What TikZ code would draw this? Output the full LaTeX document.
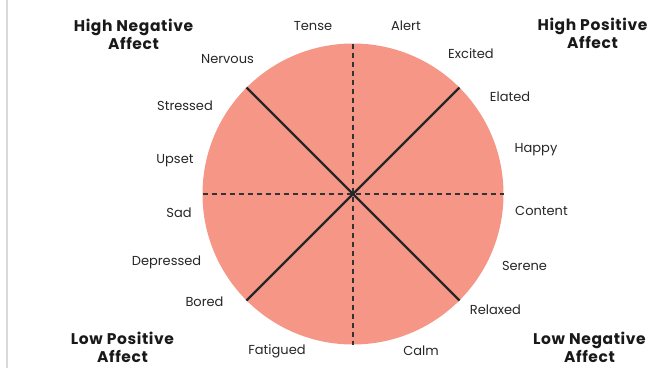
\documentclass[tikz,border=0pt]{standalone}
\usepackage{fontspec}
\setmainfont{Poppins}
\usetikzlibrary{positioning}

\definecolor{wheelfill}{RGB}{245,150,135}

\begin{document}
\begin{tikzpicture}[
                x=1pt, y=-1pt,
                mood/.style={font=\fontsize{13}{14}\selectfont, text=black!85, inner sep=0pt},
                corner/.style={font=\fontsize{15.5}{18}\selectfont\bfseries\addfontfeature{LetterSpace=4},
                               align=center, text=black!90, inner sep=0pt},
                axis/.style={dashed, dash pattern=on 5.5pt off 3.5pt, line width=1.2pt, black!80},
                split/.style={line width=2.4pt, black!85}
            ]
                \useasboundingbox (0,0) rectangle (648,368);
                \draw[gray!30, line width=1.5pt] (7,0) -- (7,368);

                \coordinate (c) at (353,194);
                \fill[wheelfill] (c) circle (150.5);
                \draw[axis] (c) ++(0,-150.5) -- ++(0,301);
                \draw[axis] (c) ++(-150.5,0) -- ++(301,0);
                \draw[split] (c) -- ++(-106.5,-106.5);
                \draw[split] (c) -- ++(106.5,-106.5);
                \draw[split] (c) -- ++(-106.5,106.5);
                \draw[split] (c) -- ++(106.5,106.5);

                % corner headings
                \node[corner] (hna) at (133.5,34) {High Negative\\Affect};
                \node[corner] (hpa) at (592.5,33) {High Positive\\Affect};
                \node[corner] (lpa) at (122.5,347.5) {Low Positive\\Affect};
                \node[corner] (lna) at (589.5,347) {Low Negative\\Affect};

                % moods round the wheel
                \node[mood] (tense) at (313,26) {Tense};
                \node[mood] (alert) at (406,26) {Alert};
                \node[mood] (nervous) at (227.5,59) {Nervous};
                \node[mood] (excited) at (471,54) {Excited};
                \node[mood] (stressed) at (185,106) {Stressed};
                \node[mood] (elated) at (510,97) {Elated};
                \node[mood] (upset) at (175,161) {Upset};
                \node[mood] (happy) at (536,150) {Happy};
                \node[mood] (sad) at (179,213) {Sad};
                \node[mood] (content) at (541.5,211) {Content};
                \node[mood] (depressed) at (166.5,262) {Depressed};
                \node[mood] (serene) at (524.5,266) {Serene};
                \node[mood] (bored) at (204.5,302) {Bored};
                \node[mood] (relaxed) at (495.5,310) {Relaxed};
                \node[mood] (fatigued) at (277,351) {Fatigued};
                \node[mood] (calm) at (421,351) {Calm};
            \end{tikzpicture}
\end{document}
